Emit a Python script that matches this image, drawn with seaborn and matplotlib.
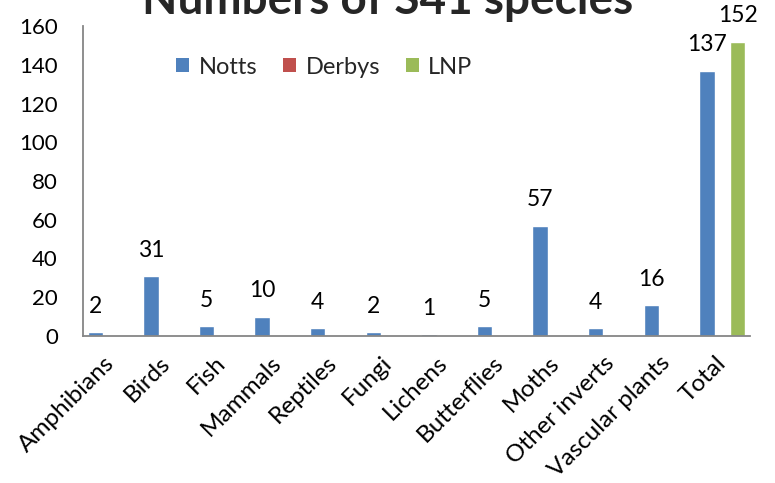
import numpy as np
import pandas as pd
import matplotlib
matplotlib.use("Agg")
import matplotlib.pyplot as plt
from matplotlib.patches import Patch
import seaborn as sns

categories = ["Amphibians", "Birds", "Fish", "Mammals", "Reptiles", "Fungi",
              "Lichens", "Butterflies", "Moths", "Other inverts",
              "Vascular plants", "Total"]
notts = [2, 31, 5, 10, 4, 2, 1, 5, 57, 4, 16, 137]
derbys = [np.nan] * 12
lnp = [np.nan] * 11 + [152]
series = ["Notts", "Derbys", "LNP"]
colors = ["#4F81BD", "#C0504D", "#9BBB59"]
yticks = [0, 20, 40, 60, 80, 100, 120, 140, 160]

df = pd.DataFrame({
    "category": categories * 3,
    "series": [s for s in series for _ in categories],
    "value": notts + derbys + lnp,
})

sns.set_theme(style="white")
plt.rcParams['font.family'] = ['Lato', 'DejaVu Sans']

fig = plt.figure(figsize=(7.75, 4.83), dpi=100)
ax = fig.add_axes([83 / 775, 1 - 336 / 483, (750 - 83) / 775, 310 / 483])

sns.barplot(data=df, x="category", y="value", hue="series", hue_order=series,
            order=categories, palette=colors, width=0.83, saturation=1,
            errorbar=None, ax=ax, legend=False)

for cont in ax.containers:
    labels = ["%g" % v if np.isfinite(v) and v > 0 else "" for v in cont.datavalues]
    ax.bar_label(cont, labels=labels, padding=11, fontsize=16.5, color="black")

ax.set_ylim(0, 160)
ax.set_yticks(yticks)
ax.set_xlabel("")
ax.set_ylabel("")
ax.tick_params(axis="y", length=0, pad=18, labelsize=16, labelcolor="black")
ax.tick_params(axis="x", length=0, pad=17, labelsize=17.5, labelcolor="black")
for lab in ax.get_xticklabels():
    lab.set_rotation(45)
    lab.set_ha("right")
    lab.set_va("center")
    lab.set_rotation_mode("anchor")

for s in ["top", "right"]:
    ax.spines[s].set_visible(False)
for s in ["left", "bottom"]:
    ax.spines[s].set_color("#868686")
    ax.spines[s].set_linewidth(1.3)

handles = [Patch(facecolor=c, edgecolor="none") for c in colors]
fig.legend(handles, series, loc="center left",
           bbox_to_anchor=(176 / 775, 1 - 67 / 483), ncol=3, frameon=False,
           fontsize=17, handlelength=0.55, handleheight=0.55,
           handletextpad=0.4, columnspacing=1.1, borderpad=0, borderaxespad=0)

fig.text(0.5, 1 - 14 / 483, "Numbers of S41 species", ha="center",
         va="baseline", fontsize=33, fontweight="bold")

fig.savefig("out.png", dpi=100)
